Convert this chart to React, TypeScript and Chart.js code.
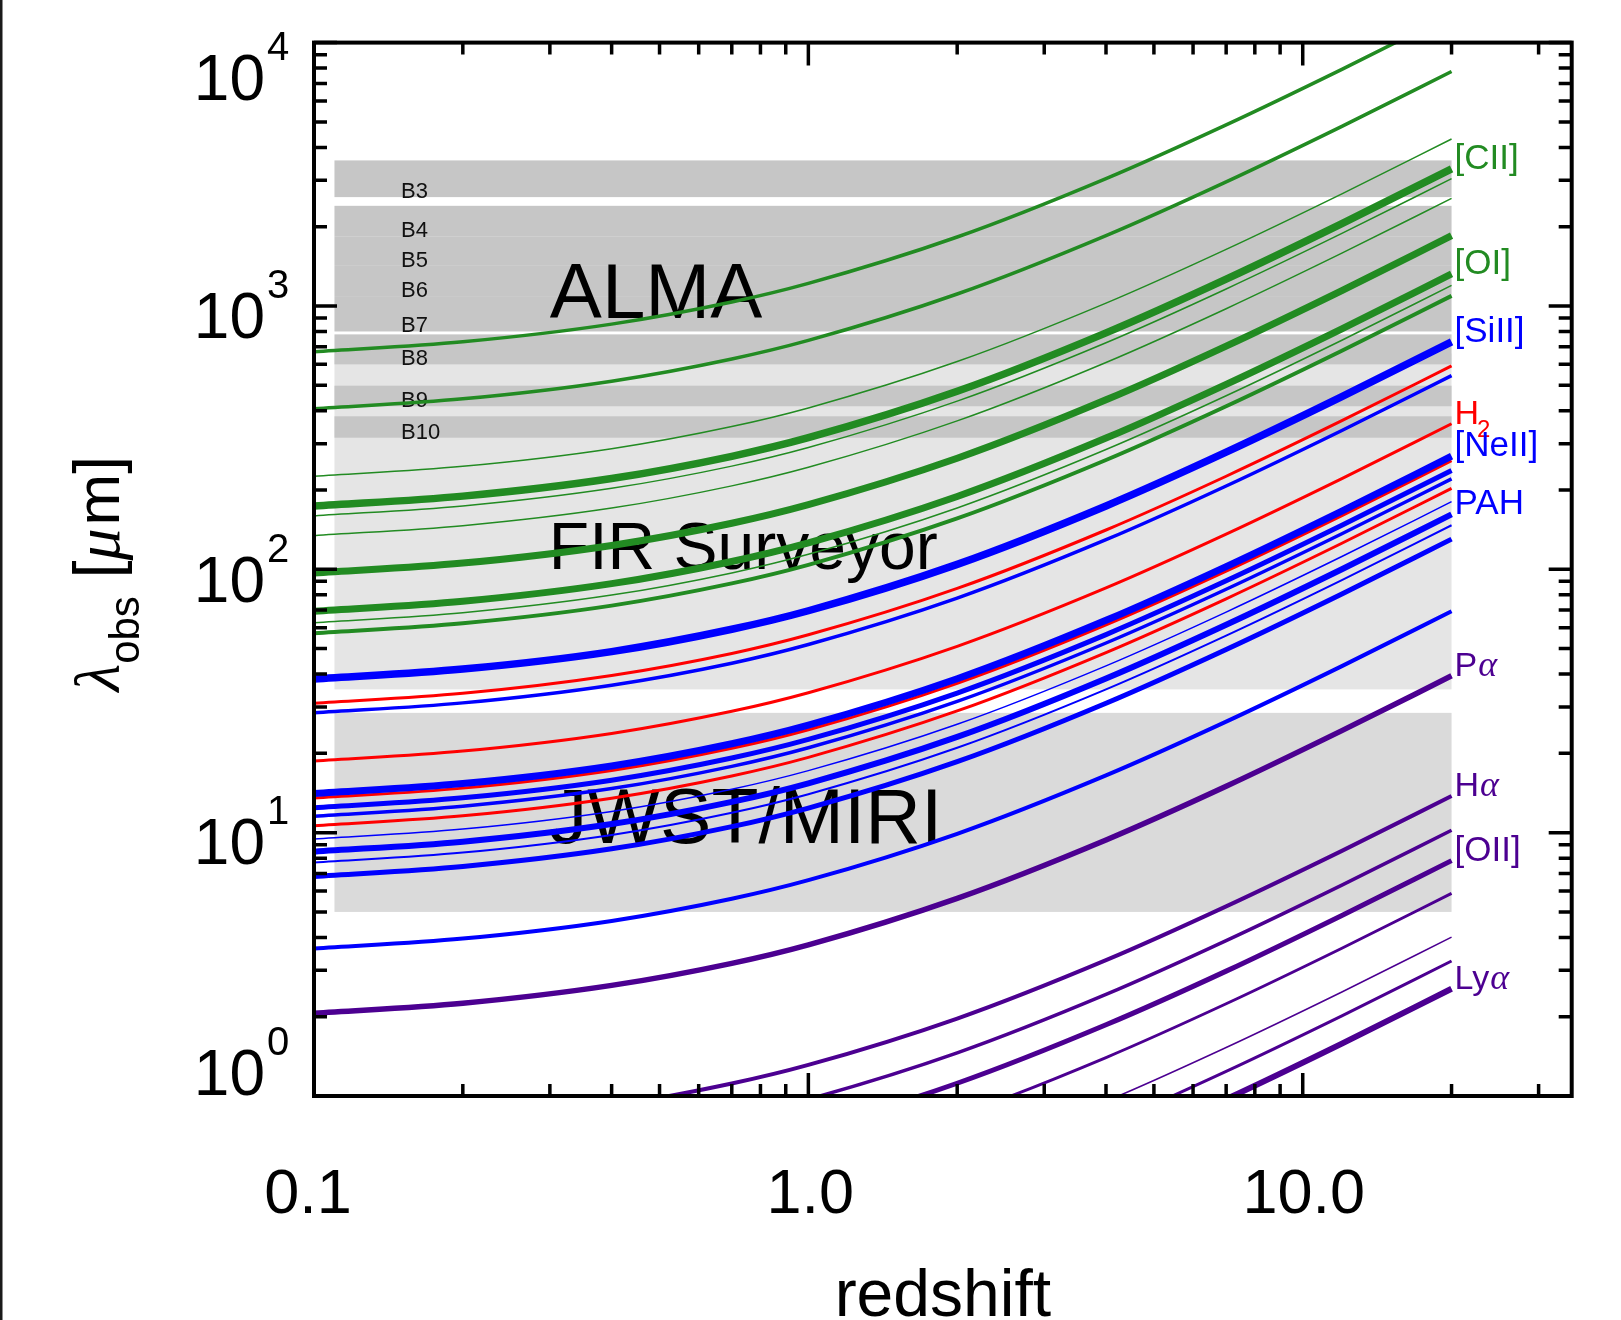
import React, { useEffect, useRef } from 'react';
import { Chart, registerables } from 'chart.js';

Chart.register(...registerables);

// ---------------- data ----------------
// redshift sample points shared by every line
const redshift = [0.1, 0.2, 0.4, 0.7, 1, 2, 4, 7, 12, 20];

const ci609 = [670, 731, 853, 1035, 1218, 1827, 3045, 4872, 7917, 12789];
const ci370 = [407, 444, 518, 629, 740, 1110, 1850, 2960, 4810, 7770];
const nii205 = [225.5, 246, 287, 348.5, 410, 615, 1025, 1640, 2665, 4305];
const cii158 = [173.8, 189.6, 221.2, 268.6, 316, 474, 790, 1264, 2054, 3318];
const oi145 = [159.5, 174, 203, 246.5, 290, 435, 725, 1160, 1885, 3045];
const nii122 = [134.2, 146.4, 170.8, 207.4, 244, 366, 610, 976, 1586, 2562];
const oiii88 = [96.8, 105.6, 123.2, 149.6, 176, 264, 440, 704, 1144, 1848];
const oi63 = [69.3, 75.6, 88.2, 107.1, 126, 189, 315, 504, 819, 1323];
const niii57 = [62.7, 68.4, 79.8, 96.9, 114, 171, 285, 456, 741, 1197];
const oiii52 = [57.2, 62.4, 72.8, 88.4, 104, 156, 260, 416, 676, 1092];
const siii35 = [38.3, 41.8, 48.7, 59.2, 69.6, 104.4, 174, 278.4, 452.4, 730.8];
const oiv26 = [28.5, 31.1, 36.3, 44.0, 51.8, 77.7, 129.5, 207.2, 336.7, 543.9];
const neii13 = [14.08, 15.36, 17.92, 21.76, 25.6, 38.4, 64, 102.4, 166.4, 268.8];
const pah113 = [12.43, 13.56, 15.82, 19.21, 22.6, 33.9, 56.5, 90.4, 146.9, 237.3];
const siv105 = [11.55, 12.6, 14.7, 17.85, 21, 31.5, 52.5, 84, 136.5, 220.5];
const pah86 = [9.46, 10.32, 12.04, 14.62, 17.2, 25.8, 43, 68.8, 111.8, 180.6];
const pah77 = [8.47, 9.24, 10.78, 13.09, 15.4, 23.1, 38.5, 61.6, 100.1, 161.7];
const arii7 = [7.7, 8.4, 9.8, 11.9, 14, 21, 35, 56, 91, 147];
const pah62 = [6.82, 7.44, 8.68, 10.54, 12.4, 18.6, 31, 49.6, 80.6, 130.2];
const pah33 = [3.63, 3.96, 4.62, 5.61, 6.6, 9.9, 16.5, 26.4, 42.9, 69.3];
const h2s0 = [31.0, 33.8, 39.5, 47.9, 56.4, 84.6, 141, 225.6, 366.6, 592.2];
const h2s1 = [18.7, 20.4, 23.8, 28.9, 34, 51, 85, 136, 221, 357];
const h2s2 = [13.53, 14.76, 17.22, 20.91, 24.6, 36.9, 61.5, 98.4, 159.9, 258.3];
const h2s3 = [10.63, 11.59, 13.52, 16.42, 19.32, 28.98, 48.3, 77.28, 125.6, 202.9];
const palpha = [2.06, 2.25, 2.63, 3.19, 3.75, 5.63, 9.38, 15.0, 24.4, 39.4];
const halpha = [0.722, 0.787, 0.918, 1.115, 1.312, 1.968, 3.28, 5.25, 8.53, 13.78];
const hbeta = [0.535, 0.583, 0.68, 0.826, 0.972, 1.458, 2.43, 3.89, 6.32, 10.21];
const oii = [0.41, 0.447, 0.522, 0.634, 0.745, 1.118, 1.864, 2.98, 4.85, 7.83];
const mgii = [0.308, 0.336, 0.392, 0.476, 0.56, 0.84, 1.4, 2.24, 3.64, 5.88];
const ciii = [0.21, 0.229, 0.267, 0.325, 0.382, 0.573, 0.955, 1.528, 2.483, 4.011];
const civ = [0.1705, 0.186, 0.217, 0.2635, 0.31, 0.465, 0.775, 1.24, 2.015, 3.255];
const lya = [0.1338, 0.1459, 0.1702, 0.2067, 0.2432, 0.3648, 0.608, 0.973, 1.581, 2.554];

// instrument coverage (μm)
const almaBands = ['B3', 'B4', 'B5', 'B6', 'B7', 'B8', 'B9', 'B10'];
const almaShortEdge = [2590, 1840, 1420, 1090, 800, 600, 416, 316];
const almaLongEdge = [3570, 2400, 1840, 1420, 1090, 780, 498, 381];
const firSurveyorRange = [35, 660];
const miriRange = [5, 28.5];
const bandRedshiftRange = [0.11, 20];

// axes
const xTickValues = [0.1, 1, 10];
const xTickLabels = ['0.1', '1.0', '10.0'];
const yTickExponents = [0, 1, 2, 3, 4];

// ---------------- styles ----------------
const GREEN = '#228b22';
const BLUE = '#0000ff';
const RED = '#ff0000';
const PURPLE = '#4c0091';
const ALMA_GRAY = '#c6c6c6';
const FIR_GRAY = '#e5e5e5';
const MIRI_GRAY = '#dadada';
const SANS = '"Liberation Sans", Arial, Helvetica, sans-serif';
const SERIF = '"Liberation Serif", "DejaVu Serif", serif';

type Series = { values: number[]; color: string; width: number; label?: string };

const SERIES: Series[] = [
  { values: ci609, color: GREEN, width: 3.5 },
  { values: ci370, color: GREEN, width: 3.5 },
  { values: nii205, color: GREEN, width: 1.5 },
  { values: cii158, color: GREEN, width: 7.5, label: '[CII]' },
  { values: oi145, color: GREEN, width: 1.5 },
  { values: nii122, color: GREEN, width: 1.5 },
  { values: oiii88, color: GREEN, width: 7 },
  { values: oi63, color: GREEN, width: 7, label: '[OI]' },
  { values: niii57, color: GREEN, width: 1.5 },
  { values: oiii52, color: GREEN, width: 4 },
  { values: siii35, color: BLUE, width: 7.5, label: '[SiII]' },
  { values: oiv26, color: BLUE, width: 3.5 },
  { values: h2s0, color: RED, width: 3 },
  { values: h2s1, color: RED, width: 3, label: 'H2' },
  { values: neii13, color: BLUE, width: 7, label: '[NeII]' },
  { values: h2s2, color: RED, width: 3 },
  { values: pah113, color: BLUE, width: 5 },
  { values: siv105, color: BLUE, width: 3.5 },
  { values: h2s3, color: RED, width: 3 },
  { values: pah86, color: BLUE, width: 1.5 },
  { values: pah77, color: BLUE, width: 6, label: 'PAH' },
  { values: arii7, color: BLUE, width: 2 },
  { values: pah62, color: BLUE, width: 5 },
  { values: pah33, color: BLUE, width: 4 },
  { values: palpha, color: PURPLE, width: 5.5, label: 'Pα' },
  { values: halpha, color: PURPLE, width: 4, label: 'Hα' },
  { values: hbeta, color: PURPLE, width: 3.5 },
  { values: oii, color: PURPLE, width: 5, label: '[OII]' },
  { values: mgii, color: PURPLE, width: 3 },
  { values: ciii, color: PURPLE, width: 1.5 },
  { values: civ, color: PURPLE, width: 3 },
  { values: lya, color: PURPLE, width: 6, label: 'Lyα' },
];

const decorPlugin = {
  id: 'decor',
  beforeDatasetsDraw(chart: any) {
    const { ctx } = chart;
    const x = chart.scales.x;
    const y = chart.scales.y;
    ctx.save();
    const rect = (z0: number, z1: number, l0: number, l1: number, color: string) => {
      const xa = x.getPixelForValue(z0);
      const xb = x.getPixelForValue(z1);
      const ya = y.getPixelForValue(l1);
      const yb = y.getPixelForValue(l0);
      ctx.fillStyle = color;
      ctx.fillRect(xa, ya, xb - xa, yb - ya);
    };
    rect(bandRedshiftRange[0], bandRedshiftRange[1], firSurveyorRange[0], firSurveyorRange[1], FIR_GRAY);
    rect(bandRedshiftRange[0], bandRedshiftRange[1], miriRange[0], miriRange[1], MIRI_GRAY);
    almaShortEdge.forEach((lo, i) =>
      rect(bandRedshiftRange[0], bandRedshiftRange[1], lo, almaLongEdge[i], ALMA_GRAY)
    );

    ctx.fillStyle = '#000';
    ctx.textAlign = 'left';
    ctx.textBaseline = 'alphabetic';
    const tx = x.getPixelForValue(0.3);
    ctx.font = `78px ${SANS}`;
    ctx.fillText('ALMA', tx, y.getPixelForValue(900));
    ctx.font = `66px ${SANS}`;
    ctx.fillText('FIR Surveyor', tx - 1, y.getPixelForValue(100));
    ctx.font = `77px ${SANS}`;
    ctx.fillText('JWST/MIRI', tx - 1, y.getPixelForValue(9.14));

    ctx.fillStyle = '#111';
    ctx.font = `22px ${SANS}`;
    const bx = x.getPixelForValue(0.15);
    almaBands.forEach((name, i) => {
      ctx.fillText(name, bx, y.getPixelForValue(almaShortEdge[i]) + 1);
    });
    ctx.restore();
  },
  afterDraw(chart: any) {
    const { ctx, chartArea } = chart;
    const x = chart.scales.x;
    const y = chart.scales.y;
    const { left, right, top, bottom } = chartArea;
    ctx.save();

    // left-edge rule of the original figure
    ctx.fillStyle = '#1a1a1a';
    ctx.fillRect(0, 0, 2.5, chart.height);

    // ticks
    ctx.strokeStyle = '#000';
    ctx.lineWidth = 3.5;
    ctx.lineCap = 'butt';
    const minorMult = [2, 3, 4, 5, 6, 7, 8, 9];
    ctx.beginPath();
    for (const e of yTickExponents) {
      const base = Math.pow(10, e);
      const py = y.getPixelForValue(base);
      ctx.moveTo(left, py); ctx.lineTo(left + 23, py);
      ctx.moveTo(right, py); ctx.lineTo(right - 23, py);
      if (e < 4) {
        for (const m of minorMult) {
          const p = y.getPixelForValue(m * base);
          ctx.moveTo(left, p); ctx.lineTo(left + 13, p);
          ctx.moveTo(right, p); ctx.lineTo(right - 13, p);
        }
      }
    }
    for (const v of xTickValues) {
      const px = x.getPixelForValue(v);
      ctx.moveTo(px, bottom); ctx.lineTo(px, bottom - 23);
      ctx.moveTo(px, top); ctx.lineTo(px, top + 23);
      for (const m of minorMult) {
        const val = m * v;
        if (val > x.max) continue;
        const p = x.getPixelForValue(val);
        ctx.moveTo(p, bottom); ctx.lineTo(p, bottom - 12);
        ctx.moveTo(p, top); ctx.lineTo(p, top + 12);
      }
    }
    ctx.stroke();

    // frame
    ctx.lineWidth = 4;
    ctx.strokeRect(left, top, right - left, bottom - top);

    // y tick labels
    ctx.fillStyle = '#000';
    ctx.textBaseline = 'alphabetic';
    const yShift = [-1, 31, 33, 32, 57];
    for (const e of yTickExponents) {
      const base = y.getPixelForValue(Math.pow(10, e)) + yShift[e];
      ctx.font = `64px ${SANS}`;
      ctx.textAlign = 'right';
      ctx.fillText('10', left - 49, base);
      ctx.font = `40px ${SANS}`;
      ctx.textAlign = 'left';
      ctx.fillText(String(e), left - 47, base - 40);
    }

    // x tick labels
    ctx.font = `63px ${SANS}`;
    ctx.textAlign = 'center';
    const xShift = [-6, 2, 1];
    xTickValues.forEach((v, i) => {
      ctx.fillText(xTickLabels[i], x.getPixelForValue(v) + xShift[i], bottom + 117);
    });

    // x title
    ctx.font = `66px ${SANS}`;
    ctx.fillText('redshift', (left + right) / 2, bottom + 220);

    // y title (rotated)
    ctx.save();
    ctx.translate(119, (top + bottom) / 2 + 6);
    ctx.rotate(-Math.PI / 2);
    ctx.textAlign = 'left';
    const parts = [
      { t: 'λ', f: `italic 64px ${SERIF}`, dy: 0 },
      { t: 'obs', f: `42px ${SANS}`, dy: 20 },
      { t: ' [', f: `64px ${SANS}`, dy: 0 },
      { t: 'μ', f: `italic 64px ${SERIF}`, dy: 0 },
      { t: 'm', f: `62px ${SANS}`, dy: 0 },
      { t: ']', f: `64px ${SANS}`, dy: 0 },
    ];
    let total = 0;
    for (const p of parts) { ctx.font = p.f; total += ctx.measureText(p.t).width; }
    let cx = -total / 2;
    for (const p of parts) {
      ctx.font = p.f;
      ctx.fillText(p.t, cx, p.dy);
      cx += ctx.measureText(p.t).width + (p.t === 'μ' ? 3 : 0);
    }
    ctx.restore();

    // line labels at right end
    ctx.textAlign = 'left';
    const lx = x.getPixelForValue(redshift[redshift.length - 1]) + 3;
    for (const s of SERIES) {
      if (!s.label) continue;
      const ly = y.getPixelForValue(s.values[s.values.length - 1]);
      ctx.fillStyle = s.color;
      if (s.label === 'H2') {
        ctx.font = `34px ${SANS}`;
        ctx.fillText('H', lx, ly);
        const w = ctx.measureText('H').width;
        ctx.font = `24px ${SANS}`;
        ctx.fillText('2', lx + w - 2, ly + 13);
      } else if (s.label.endsWith('α')) {
        const head = s.label.slice(0, -1);
        ctx.font = `34px ${SANS}`;
        ctx.fillText(head, lx, ly);
        const w = ctx.measureText(head).width;
        ctx.font = `italic 36px ${SERIF}`;
        ctx.fillText('α', lx + w + 1, ly);
      } else {
        ctx.font = `35px ${SANS}`;
        ctx.fillText(s.label, lx, ly);
      }
    }
    ctx.restore();
  },
};

export default function App() {
  const canvasRef = useRef<HTMLCanvasElement | null>(null);

  useEffect(() => {
    const canvas = canvasRef.current;
    if (!canvas) return;
    const chart = new Chart(canvas, {
      type: 'line',
      data: {
        datasets: SERIES.map((s) => ({
          data: redshift.map((z, i) => ({ x: z, y: s.values[i] })),
          borderColor: s.color,
          borderWidth: s.width,
          pointRadius: 0,
          fill: false,
          cubicInterpolationMode: 'monotone' as const,
          clip: 0,
        })),
      },
      options: {
        animation: false,
        responsive: false,
        devicePixelRatio: 1,
        events: [],
        layout: { padding: { left: 314, right: 49.3, top: 42.6, bottom: 224 } },
        elements: { line: { capBezierPoints: false } },
        scales: {
          x: { type: 'logarithmic', min: 0.1, max: 35, display: false },
          y: { type: 'logarithmic', min: 1, max: 10000, display: false },
        },
        plugins: { legend: { display: false }, tooltip: { enabled: false } },
      },
      plugins: [decorPlugin],
    } as any);
    return () => chart.destroy();
  }, []);

  return (
    <div style={{ position: 'absolute', left: 0, top: 0, width: 1621, height: 1320, background: '#fff' }}>
      <canvas ref={canvasRef} width={1621} height={1320} style={{ display: 'block', width: 1621, height: 1320 }} />
    </div>
  );
}
